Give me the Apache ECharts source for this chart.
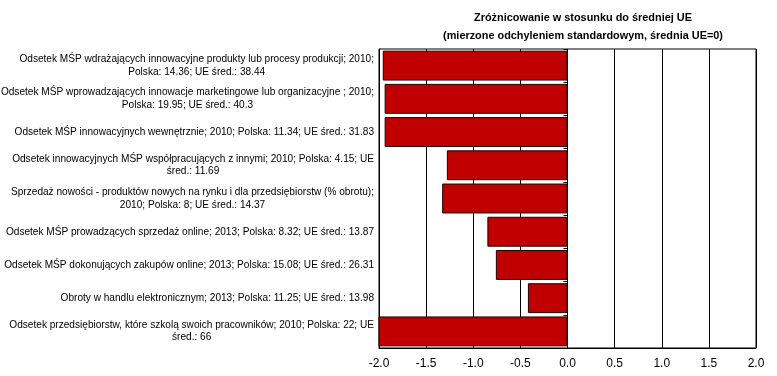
<!DOCTYPE html>
<html><head><meta charset="utf-8">
<script src="https://cdn.jsdelivr.net/npm/echarts@6/dist/echarts.min.js"></script>
<style>html,body{margin:0;padding:0;background:#fff}#c{width:777px;height:376px}</style>
</head><body><div id="c"></div>
<script>
const titleText = 'Zróżnicowanie w stosunku do średniej UE\n(mierzone odchyleniem standardowym, średnia UE=0)';
const categories = [
  'Odsetek MŚP wdrażających innowacyjne produkty lub procesy produkcji; 2010;\nPolska: 14.36; UE śred.: 38.44',
  'Odsetek MŚP wprowadzających innowacje marketingowe lub organizacyjne ; 2010;\nPolska: 19.95; UE śred.: 40.3',
  'Odsetek MŚP innowacyjnych wewnętrznie; 2010; Polska: 11.34; UE śred.: 31.83',
  'Odsetek innowacyjnych MŚP współpracujących z innymi; 2010; Polska: 4.15; UE\nśred.: 11.69',
  'Sprzedaż nowości - produktów nowych na rynku i dla przedsiębiorstw (% obrotu);\n2010; Polska: 8; UE śred.: 14.37',
  'Odsetek MŚP prowadzących sprzedaż online; 2013; Polska: 8.32; UE śred.: 13.87',
  'Odsetek MŚP dokonujących zakupów online; 2013; Polska: 15.08; UE śred.: 26.31',
  'Obroty w handlu elektronicznym; 2013; Polska: 11.25; UE śred.: 13.98',
  'Odsetek przedsiębiorstw, które szkolą swoich pracowników; 2010; Polska: 22; UE\nśred.: 66'
];
const values = [-1.96, -1.94, -1.94, -1.28, -1.33, -0.85, -0.76, -0.42, -2.3];
const xMin = -2, xMax = 2, xStep = 0.5;

const FONT = "'Liberation Sans', Arial, sans-serif";
const chart = echarts.init(document.getElementById('c'), null, {renderer: 'canvas'});
chart.setOption({
  animation: false,
  backgroundColor: '#fff',
  title: {
    text: titleText,
    left: 578, top: 4, textAlign: 'center',
    textStyle: {fontFamily: FONT, fontSize: 10.9, fontWeight: 'bold', color: '#000', lineHeight: 18}
  },
  grid: {left: 379, right: 21, top: 49, bottom: 28, show: true, borderColor: '#000', borderWidth: 1,
    containLabel: false, outerBoundsMode: 'none'},
  xAxis: {
    type: 'value', min: xMin, max: xMax, interval: xStep,
    axisLine: {show: true, lineStyle: {color: '#000', width: 1}},
    axisTick: {show: false},
    splitLine: {show: true, lineStyle: {color: '#000', width: 1}},
    axisLabel: {color: '#000', fontFamily: FONT, fontSize: 12, margin: 10,
      formatter: v => v.toFixed(1)}
  },
  yAxis: [
    {
      type: 'category', data: categories, inverse: true, position: 'left',
      axisLine: {show: true, onZero: false, lineStyle: {color: '#000'}},
      axisTick: {show: false},
      axisLabel: {
        color: '#000', fontFamily: FONT, fontSize: 10.1, margin: 5, align: 'right', lineHeight: 12.5,
        formatter: v => v.split('\n').map(s => '{c|' + s + '}').join('\n'),
        rich: {c: {align: 'center', fontFamily: FONT, fontSize: 10.1, lineHeight: 12.5, color: '#000'}}
      }
    },
    {
      type: 'category', data: categories, inverse: true, position: 'left', z: 10,
      axisLine: {show: false, onZero: true},
      axisTick: {show: true, length: 4, lineStyle: {color: '#000'}},
      axisLabel: {show: false}
    }
  ],
  series: [{
    type: 'bar', data: values, yAxisIndex: 0, barCategoryGap: '10%',
    itemStyle: {color: '#C00000', borderColor: '#200000', borderWidth: 1},
    clip: true
  }]
});
</script></body></html>
